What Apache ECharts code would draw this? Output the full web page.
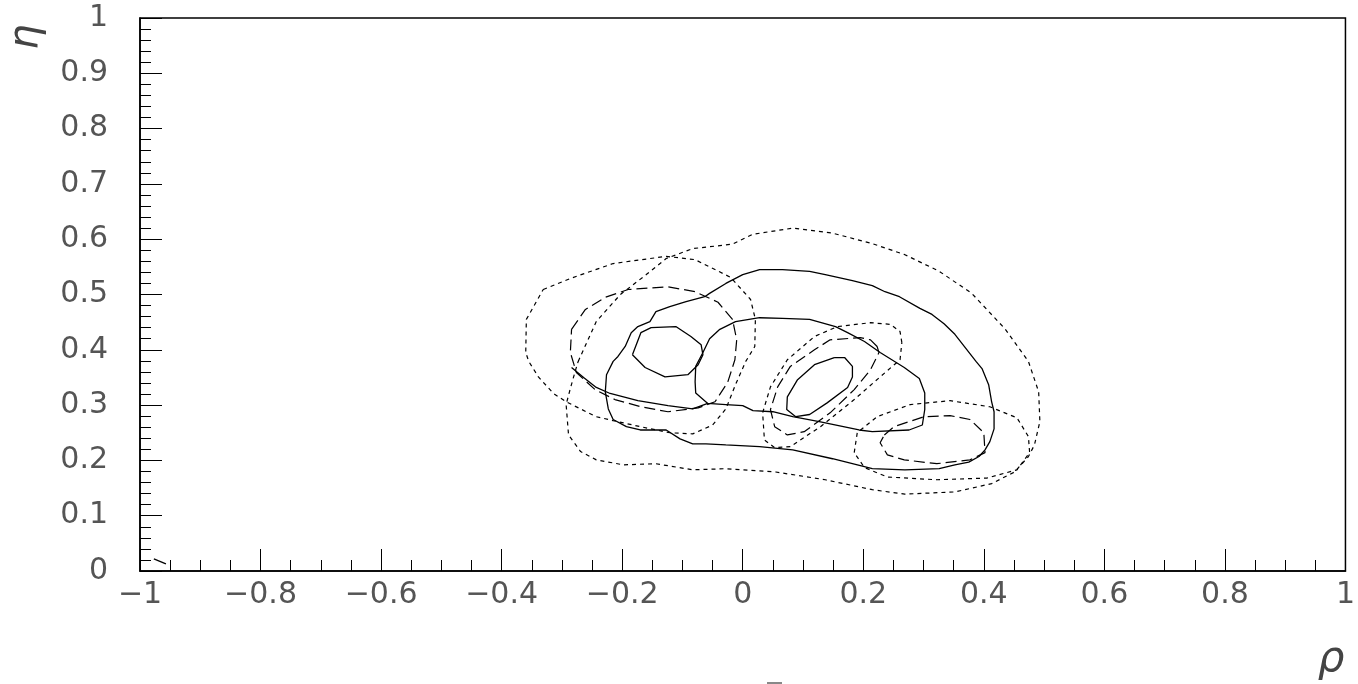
<!DOCTYPE html>
<html lang="en">

<head>
    <meta charset="UTF-8">
    <title>eta vs rho contours</title>
    <script src="https://cdn.jsdelivr.net/npm/echarts@6.0.0/dist/echarts.min.js"></script>
    <style>
        body { margin: 0; background: #fff; }
    </style>
</head>

<body>
    <div id="main" style="width: 1358px;height:684px;"></div>
    <script type="text/javascript">
        // contour paths, [rho, eta]
        const solidInnerLeft = [[-0.183,0.391],[-0.169,0.431],[-0.152,0.440],[-0.111,0.442],[-0.086,0.424],[-0.069,0.409],[-0.066,0.391],[-0.074,0.373],[-0.091,0.355],[-0.129,0.351],[-0.162,0.368]];
        const solidInnerRight = [[0.152,0.386],[0.169,0.386],[0.182,0.370],[0.182,0.351],[0.174,0.332],[0.140,0.304],[0.111,0.283],[0.088,0.279],[0.073,0.292],[0.074,0.315],[0.091,0.346],[0.119,0.373]];
        const solidOuter = [[-0.063,0.496],[-0.055,0.502],[-0.028,0.520],[0,0.536],[0.028,0.545],[0.066,0.545],[0.111,0.542],[0.137,0.536],[0.182,0.525],[0.215,0.516],[0.236,0.505],[0.260,0.496],[0.294,0.475],[0.314,0.464],[0.334,0.447],[0.352,0.428],[0.387,0.379],[0.397,0.366],[0.408,0.337],[0.413,0.306],[0.417,0.288],[0.417,0.257],[0.410,0.234],[0.402,0.219],[0.392,0.207],[0.375,0.197],[0.352,0.192],[0.326,0.185],[0.269,0.183],[0.215,0.185],[0.149,0.203],[0.083,0.219],[0.028,0.225],[-0.028,0.228],[-0.061,0.230],[-0.083,0.230],[-0.104,0.239],[-0.127,0.255],[-0.170,0.255],[-0.193,0.261],[-0.215,0.274],[-0.223,0.293],[-0.228,0.324],[-0.226,0.355],[-0.215,0.379],[-0.207,0.388],[-0.195,0.406],[-0.185,0.431],[-0.174,0.442],[-0.154,0.451],[-0.144,0.469],[-0.121,0.478],[-0.094,0.487]];
        const solidMiddle = [[-0.058,0.303],[-0.078,0.322],[-0.079,0.342],[-0.078,0.370],[-0.066,0.395],[-0.055,0.420],[-0.038,0.437],[-0.012,0.451],[0.028,0.458],[0.066,0.457],[0.111,0.455],[0.154,0.442],[0.174,0.431],[0.202,0.415],[0.228,0.395],[0.268,0.368],[0.293,0.348],[0.302,0.322],[0.302,0.292],[0.298,0.264],[0.276,0.255],[0.215,0.252],[0.193,0.255],[0.127,0.270],[0.083,0.279],[0.050,0.288],[0.017,0.290],[0,0.299],[-0.028,0.301]];
        const solidTail = [[-0.284,0.368],[-0.264,0.350],[-0.243,0.332],[-0.220,0.321],[-0.174,0.308],[-0.124,0.299],[-0.083,0.293],[-0.058,0.303]];
        const solidCorner = [[-0.977,0.022],[-0.957,0.013]];

        const dashedLeft = [[-0.284,0.437],[-0.261,0.473],[-0.228,0.495],[-0.190,0.509],[-0.124,0.514],[-0.079,0.505],[-0.041,0.486],[-0.017,0.455],[-0.010,0.418],[-0.013,0.382],[-0.025,0.341],[-0.046,0.306],[-0.074,0.295],[-0.124,0.288],[-0.169,0.297],[-0.212,0.310],[-0.245,0.328],[-0.276,0.359],[-0.286,0.395]];
        const dashedMiddle = [[0.223,0.406],[0.212,0.418],[0.195,0.422],[0.145,0.418],[0.119,0.400],[0.079,0.370],[0.058,0.333],[0.046,0.292],[0.053,0.261],[0.074,0.246],[0.102,0.252],[0.145,0.286],[0.185,0.328],[0.212,0.364],[0.226,0.395]];
        const dashedRight = [[0.235,0.246],[0.251,0.261],[0.301,0.279],[0.344,0.281],[0.377,0.274],[0.400,0.250],[0.402,0.214],[0.377,0.201],[0.322,0.194],[0.268,0.201],[0.240,0.210],[0.228,0.232]];

        const dottedLeft = [[-0.331,0.509],[-0.286,0.529],[-0.215,0.556],[-0.127,0.569],[-0.079,0.563],[-0.020,0.531],[0.013,0.491],[0.021,0.455],[0.020,0.406],[0.005,0.379],[-0.012,0.337],[-0.028,0.293],[-0.050,0.264],[-0.083,0.248],[-0.121,0.250],[-0.170,0.261],[-0.215,0.272],[-0.243,0.279],[-0.293,0.306],[-0.314,0.321],[-0.339,0.351],[-0.355,0.379],[-0.360,0.395],[-0.359,0.455]];
        const dottedOuter = [[-0.273,0.379],[-0.243,0.451],[-0.203,0.500],[-0.160,0.536],[-0.127,0.565],[-0.083,0.583],[-0.017,0.591],[0.017,0.609],[0.083,0.620],[0.149,0.611],[0.215,0.592],[0.269,0.572],[0.326,0.542],[0.380,0.502],[0.435,0.438],[0.474,0.379],[0.491,0.324],[0.493,0.270],[0.484,0.228],[0.474,0.207],[0.451,0.179],[0.413,0.158],[0.352,0.143],[0.269,0.139],[0.215,0.147],[0.137,0.165],[0.055,0.179],[-0.028,0.185],[-0.083,0.183],[-0.144,0.194],[-0.198,0.192],[-0.243,0.201],[-0.269,0.216],[-0.289,0.246],[-0.293,0.301],[-0.286,0.330],[-0.278,0.361]];
        const dottedMiddle = [[0.264,0.413],[0.261,0.433],[0.245,0.446],[0.212,0.449],[0.157,0.442],[0.119,0.424],[0.074,0.382],[0.046,0.333],[0.033,0.286],[0.036,0.237],[0.053,0.223],[0.079,0.225],[0.129,0.261],[0.185,0.310],[0.228,0.351],[0.261,0.382]];
        const dottedRight = [[0.185,0.214],[0.190,0.250],[0.223,0.279],[0.278,0.301],[0.344,0.308],[0.410,0.297],[0.455,0.277],[0.474,0.243],[0.476,0.214],[0.455,0.183],[0.405,0.168],[0.322,0.165],[0.240,0.170],[0.202,0.187]];

        const closed = pts => pts.concat([pts[0]]);
        const styles = {
            solid: { color: '#000', width: 1.3, type: 'solid' },
            dashed: { color: '#000', width: 1.2, type: [11, 5] },
            dotted: { color: '#000', width: 1.2, type: [4, 4] }
        };
        const contour = (pts, style) => ({
            type: 'line',
            data: pts,
            showSymbol: false,
            symbol: 'none',
            lineStyle: styles[style],
            animation: false,
            silent: true
        });

        const fmt = v => {
            const r = Math.round(v * 100) / 100;
            return r < 0 ? '\u2212' + String(-r) : String(r);
        };
        const labelFont = { fontFamily: 'DejaVu Sans', fontSize: 30, color: '#555' };

        let options = {
            backgroundColor: '#fff',
            grid: { left: 140, right: 8, top: 18, bottom: 113, show: true, borderColor: '#000', borderWidth: 1.5 },
            xAxis: {
                type: 'value', min: -1, max: 1, interval: 0.2,
                axisLine: { onZero: false, lineStyle: { color: '#000', width: 1.5 } },
                axisTick: { inside: true, length: 22, lineStyle: { color: '#000' } },
                minorTick: { show: true, splitNumber: 4, length: 11, lineStyle: { color: '#000' } },
                splitLine: { show: false },
                axisLabel: Object.assign({ margin: 9, formatter: fmt }, labelFont)
            },
            yAxis: {
                type: 'value', min: 0, max: 1, interval: 0.1,
                axisLine: { onZero: false, lineStyle: { color: '#000', width: 1.5 } },
                axisTick: { inside: true, length: 22, lineStyle: { color: '#000' } },
                minorTick: { show: true, splitNumber: 5, length: 11, lineStyle: { color: '#000' } },
                splitLine: { show: false },
                axisLabel: Object.assign({ margin: 32, formatter: fmt }, labelFont)
            },
            graphic: [
                { type: 'text', x: 27, y: 37, rotation: Math.PI / 2, style: { text: '\u03b7', fontSize: 40, fontStyle: 'italic', fontFamily: 'DejaVu Sans', fill: '#444', align: 'center', verticalAlign: 'middle' } },
                { type: 'text', x: 1331, y: 660, style: { text: '\u03c1', fontSize: 42, fontStyle: 'italic', fontFamily: 'DejaVu Sans', fill: '#444', align: 'center', verticalAlign: 'middle' } },
                { type: 'rect', shape: { x: 767, y: 682, width: 15, height: 2 }, style: { fill: '#888' } }
            ],
            series: [
                contour(closed(solidInnerLeft), 'solid'),
                contour(closed(solidInnerRight), 'solid'),
                contour(closed(solidOuter), 'solid'),
                contour(closed(solidMiddle), 'solid'),
                contour(solidTail, 'solid'),
                contour(solidCorner, 'solid'),
                contour(closed(dashedLeft), 'dashed'),
                contour(closed(dashedMiddle), 'dashed'),
                contour(closed(dashedRight), 'dashed'),
                contour(closed(dottedLeft), 'dotted'),
                contour(closed(dottedOuter), 'dotted'),
                contour(closed(dottedMiddle), 'dotted'),
                contour(closed(dottedRight), 'dotted')
            ]
        };
        let myChart = echarts.init(document.getElementById('main'));
        myChart.setOption(options);
    </script>
</body>

</html>
